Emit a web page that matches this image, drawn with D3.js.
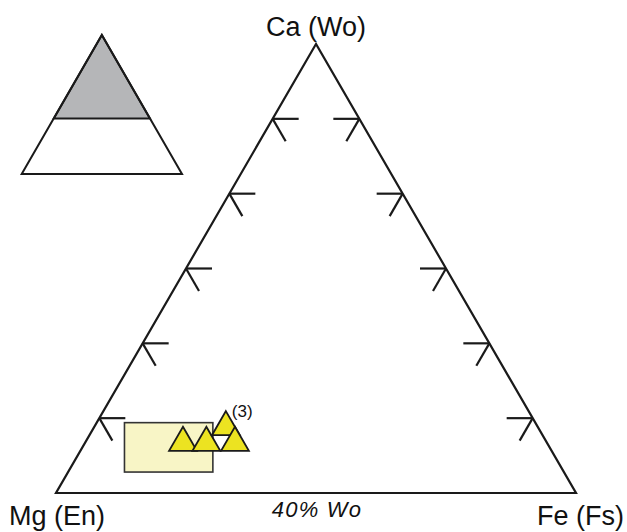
<!DOCTYPE html>
<html>
<head>
<meta charset="utf-8">
<script src="https://cdn.jsdelivr.net/npm/d3@7"></script>
<style>
  body { margin: 0; background: #fff; }
  text { font-family: "Liberation Sans", Arial, Helvetica, sans-serif; fill: #111; }
</style>
</head>
<body>
<div id="chart"></div>
<script>
// Data
const cornerLabels = ["Ca (Wo)", "Mg (En)", "Fe (Fs)"];
const baseLabel = "40% Wo";
const woMin = 40;                       // main triangle shows Wo 40-100
const woTicks = [50, 60, 70, 80, 90];

// analyses (mol %)
const pointWo = [46.7, 46.7, 48.8, 46.7];
const pointEn = [42.0, 39.3, 36.0, 36.0];
const pointFs = [11.3, 14.0, 15.2, 17.3];
const pointNotes = ["", "", "(3)", ""];

// range box corners (mol %)
const boxWo = [49.4, 42.8];
const boxEn = [47.4, 40.5];
const boxFs = [3.2, 16.7];

const width = 627, height = 532;

const svg = d3.select("#chart")
    .append("svg")
    .attr("width", width)
    .attr("height", height);

// Scales for the main (zoomed) triangle
const y = d3.scaleLinear().domain([woMin, 100]).range([493, 44]);
const x = d3.scaleLinear().domain([0, 1]).range([56, 576]);

// ternary -> pixel, main triangle
function proj(wo, en, fs) {
    const s = wo + en + fs;
    const a = (wo / s * 100 - woMin) / (100 - woMin);
    const c = (fs / s * 100) / (100 - woMin);
    return [x(c + a / 2), y(wo / s * 100)];
}

const ink = "#1a1a1a";

// Main triangle
const corners = [proj(100, 0, 0), proj(woMin, 100 - woMin, 0), proj(woMin, 0, 100 - woMin)];
svg.append("path")
    .attr("d", d3.line()(corners) + "Z")
    .style("fill", "none")
    .style("stroke", ink)
    .style("stroke-width", 2.2)
    .style("stroke-linejoin", "miter");

// Tick marks (constant-Wo and constant-En / constant-Fs directions)
const tickLen = 3;
const ticks = svg.append("g")
    .style("stroke", ink)
    .style("stroke-width", 2.2)
    .style("fill", "none");

woTicks.forEach(w => {
    // left edge (Fs = 0)
    const p = proj(w, 100 - w, 0);
    const h = proj(w, 100 - w - tickLen, tickLen);
    const d = proj(w - tickLen, 100 - w, tickLen);
    ticks.append("line").attr("x1", p[0]).attr("y1", p[1]).attr("x2", h[0]).attr("y2", h[1]);
    ticks.append("line").attr("x1", p[0]).attr("y1", p[1]).attr("x2", d[0]).attr("y2", d[1]);
    // right edge (En = 0)
    const q = proj(w, 0, 100 - w);
    const h2 = proj(w, tickLen, 100 - w - tickLen);
    const d2 = proj(w - tickLen, tickLen, 100 - w);
    ticks.append("line").attr("x1", q[0]).attr("y1", q[1]).attr("x2", h2[0]).attr("y2", h2[1]);
    ticks.append("line").attr("x1", q[0]).attr("y1", q[1]).attr("x2", d2[0]).attr("y2", d2[1]);
});

// Range box
const b0 = proj(boxWo[0], boxEn[0], boxFs[0]);
const b1 = proj(boxWo[1], boxEn[1], boxFs[1]);
svg.append("rect")
    .attr("x", Math.min(b0[0], b1[0]))
    .attr("y", Math.min(b0[1], b1[1]))
    .attr("width", Math.abs(b1[0] - b0[0]))
    .attr("height", Math.abs(b1[1] - b0[1]))
    .style("fill", "#f8f5c6")
    .style("stroke", "#333")
    .style("stroke-width", 1.6);

// Points
const tri = d3.symbol().type(d3.symbolTriangle).size(335);
pointWo.forEach((w, i) => {
    const p = proj(w, pointEn[i], pointFs[i]);
    svg.append("path")
        .attr("d", tri)
        .attr("transform", `translate(${p[0]},${p[1]})`)
        .style("fill", "#ece321")
        .style("stroke", "#1a1a1a")
        .style("stroke-width", 1.8)
        .style("stroke-linejoin", "miter");
    if (pointNotes[i]) {
        svg.append("text")
            .attr("x", p[0] + 6)
            .attr("y", p[1] - 10)
            .style("font-size", "17px")
            .text(pointNotes[i]);
    }
});

// Corner labels
svg.append("text")
    .attr("x", corners[0][0])
    .attr("y", 36)
    .attr("text-anchor", "middle")
    .style("font-size", "27px")
    .text(cornerLabels[0]);

svg.append("text")
    .attr("x", 9)
    .attr("y", 525)
    .style("font-size", "27px")
    .text(cornerLabels[1]);

svg.append("text")
    .attr("x", 624)
    .attr("y", 525)
    .attr("text-anchor", "end")
    .style("font-size", "27px")
    .text(cornerLabels[2]);

svg.append("text")
    .attr("x", 317)
    .attr("y", 517)
    .attr("text-anchor", "middle")
    .style("font-size", "22px")
    .style("font-style", "italic")
    .style("letter-spacing", "1.2px")
    .text(baseLabel);

// Inset: full Wo-En-Fs triangle, shaded part is the one shown
const ix = d3.scaleLinear().domain([0, 1]).range([21.7, 182]);
const iy = d3.scaleLinear().domain([0, 100]).range([174, 35]);
function iproj(wo, en, fs) {
    const a = wo / 100, c = fs / 100;
    return [ix(c + a / 2), iy(wo)];
}
const inset = svg.append("g");
const full = [iproj(100, 0, 0), iproj(0, 100, 0), iproj(0, 0, 100)];
const shown = [iproj(100, 0, 0), iproj(woMin, 100 - woMin, 0), iproj(woMin, 0, 100 - woMin)];
inset.append("path")
    .attr("d", d3.line()(full) + "Z")
    .style("fill", "#fff");
inset.append("path")
    .attr("d", d3.line()(shown) + "Z")
    .style("fill", "#b5b6b8")
    .style("stroke", ink)
    .style("stroke-width", 2);
inset.append("path")
    .attr("d", d3.line()(full) + "Z")
    .style("fill", "none")
    .style("stroke", ink)
    .style("stroke-width", 2);
</script>
</body>
</html>
